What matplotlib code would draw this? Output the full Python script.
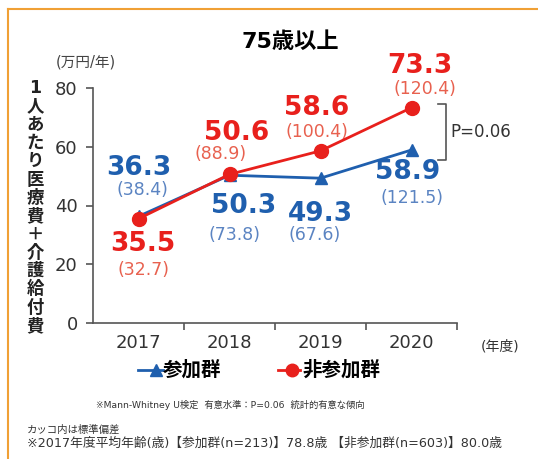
import matplotlib
matplotlib.use("Agg")
import matplotlib.pyplot as plt
from matplotlib.lines import Line2D
import numpy as np

plt.rcParams['font.family'] = ['DejaVu Sans', 'Noto Sans CJK JP']

years = ['2017', '2018', '2019', '2020']
part_mean = [36.3, 50.3, 49.3, 58.9]       # 参加群
part_sd = [38.4, 73.8, 67.6, 121.5]
nonpart_mean = [35.5, 50.6, 58.6, 73.3]    # 非参加群
nonpart_sd = [32.7, 88.9, 100.4, 120.4]

blue = '#1f5fae'
blue_lt = '#5b84c2'
red = '#e8201c'
red_lt = '#e8614f'
axcol = '#555555'

fig = plt.figure(figsize=(5.38, 4.59), dpi=100)
ax = fig.add_axes([93/538, 1-323/459, 364/538, 235/459])

x = np.arange(len(years))
ax.plot(x, part_mean, color=blue, lw=2, marker='^', ms=9, zorder=3)
ax.plot(x, nonpart_mean, color=red, lw=2, marker='o', ms=10, zorder=4)

ax.set_xlim(-0.5, 3.5)
ax.set_ylim(0, 80)
ax.set_yticks([0, 20, 40, 60, 80])
ax.set_xticks(x)
ax.set_xticklabels(years)
ax.set_xticks([0.5, 1.5, 2.5, 3.5], minor=True)
ax.tick_params(axis='x', which='major', length=0, pad=8, labelsize=13, colors='#333333')
ax.tick_params(axis='x', which='minor', length=5, width=1.2, color=axcol)
ax.tick_params(axis='y', length=5, width=1.2, color=axcol, labelsize=13, labelcolor='#333333', pad=6)
for s in ['top', 'right']:
    ax.spines[s].set_visible(False)
for s in ['left', 'bottom']:
    ax.spines[s].set_color(axcol)
    ax.spines[s].set_linewidth(1.2)

# label offsets from each point (dx, dy in data units): mean label, then sd label
big = dict(fontsize=19, fontweight='bold', ha='center', va='center')
small = dict(fontsize=12.5, ha='center', va='center')
part_off = [(0.0, 16.6), (0.16, -10.4), (0.0, -12.1), (-0.04, -7.5)]
part_sd_off = [(0.04, 9.1), (0.06, -20.2), (-0.07, -19.5), (0.01, -16.5)]
nonpart_off = [(0.05, -8.5), (0.08, 14.1), (-0.04, 14.6), (0.09, 14.2)]
nonpart_sd_off = [(0.05, -17.3), (-0.1, 7.0), (-0.04, 6.3), (0.15, 6.2)]
for i in range(4):
    dx, dy = part_off[i]
    ax.text(x[i]+dx, part_mean[i]+dy, f'{part_mean[i]:.1f}', color=blue, **big)
    dx, dy = part_sd_off[i]
    ax.text(x[i]+dx, part_mean[i]+dy, f'({part_sd[i]:.1f})', color=blue_lt, **small)
    dx, dy = nonpart_off[i]
    ax.text(x[i]+dx, nonpart_mean[i]+dy, f'{nonpart_mean[i]:.1f}', color=red, **big)
    dx, dy = nonpart_sd_off[i]
    ax.text(x[i]+dx, nonpart_mean[i]+dy, f'({nonpart_sd[i]:.1f})', color=red_lt, **small)

# P-value bracket
bx0, bx1 = 3.29, 3.38
ax.plot([bx0, bx1, bx1, bx0], [74.6, 74.6, 55.5, 55.5], color=axcol, lw=1.2, clip_on=False)
ax.text(bx1+0.05, 65, 'P=0.06', fontsize=12, color='#333333', ha='left', va='center')

fig.text(290/538, 1-42/459, '75歳以上', fontsize=16, fontweight='bold', ha='center', va='center')
fig.text(86/538, 1-62/459, '(万円/年)', fontsize=10.5, color='#444444', ha='center', va='center')
fig.text(500/538, 1-346/459, '(年度)', fontsize=10, color='#333333', ha='center', va='center')

ylab = '1人あたり医療費＋介護給付費'
fig.text(35/538, 1-207/459, '\n'.join(ylab), fontsize=12.5, fontweight='bold',
         ha='center', va='center', linespacing=1.02, color='#222222')

# legend
ly = 1-370/459
fig.add_artist(Line2D([138/538, 163/538], [ly, ly], color=blue, lw=2))
fig.add_artist(Line2D([156/538], [ly], color=blue, marker='^', ms=8))
fig.text(163/538, ly, '参加群', fontsize=14, fontweight='bold', ha='left', va='center')
fig.add_artist(Line2D([278/538, 300/538], [ly, ly], color=red, lw=2))
fig.add_artist(Line2D([292/538], [ly], color=red, marker='o', ms=9))
fig.text(302/538, ly, '非参加群', fontsize=14, fontweight='bold', ha='left', va='center')

fig.text(230/538, 1-405/459, '※Mann-Whitney U検定  有意水準：P=0.06  統計的有意な傾向',
         fontsize=6.7, color='#333333', ha='center', va='center')
fig.text(27/538, 1-430/459, 'カッコ内は標準偏差', fontsize=7.5, color='#333333', ha='left', va='center')
fig.text(27/538, 1-443/459, '※2017年度平均年齢(歳)【参加群(n=213)】78.8歳 【非参加群(n=603)】80.0歳',
         fontsize=9.2, color='#333333', ha='left', va='center')

# orange frame
orange = '#f0a035'
fig.add_artist(Line2D([8/538, 8/538], [0, 1-9/459], color=orange, lw=1.5))
fig.add_artist(Line2D([8/538, 1], [1-9/459, 1-9/459], color=orange, lw=1.5))

fig.savefig('out.png', dpi=100)
